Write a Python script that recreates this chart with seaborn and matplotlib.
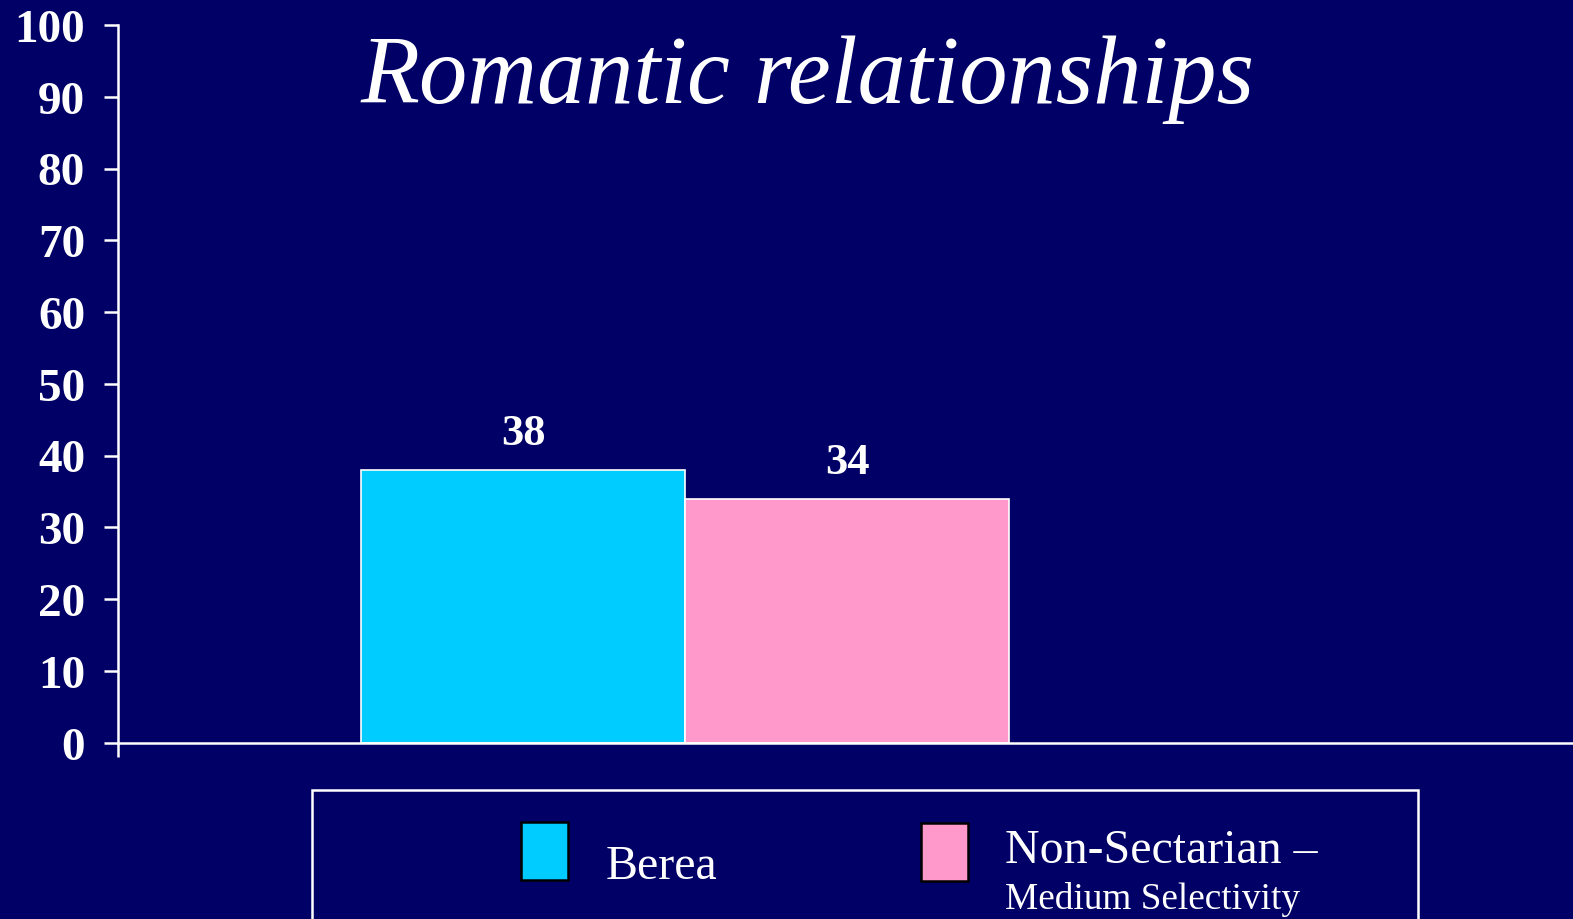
import matplotlib
matplotlib.use("Agg")
import matplotlib.pyplot as plt
import matplotlib.patches as mpatches
import pandas as pd
import seaborn as sns

# ── Data ──────────────────────────────────────────────────────────────────────
categories = ["Romantic relationships"]
series = ["Berea", "Non-Sectarian \u2013"]
series_sub = ["", "Medium Selectivity"]
values = [38, 34]
colors = ["#00CCFF", "#FF99CC"]
yticks = list(range(0, 101, 10))

BG = "#000066"
FONT = "Liberation Serif"

df = pd.DataFrame({"cat": categories * len(series), "series": series, "value": values})

sns.set_theme(style="white")
plt.rcParams["font.family"] = [FONT, "DejaVu Serif"]

fig = plt.figure(figsize=(15.73, 9.2), dpi=100, facecolor=BG)
ax = fig.add_axes([118.4 / 1573, 1 - 743.5 / 920, 1 - 118.4 / 1573, (743.5 - 26) / 920])
ax.set_facecolor(BG)

sns.barplot(data=df, x="cat", y="value", hue="series", palette=colors,
            edgecolor="white", linewidth=1.2, saturation=1, width=0.8,
            legend=False, ax=ax)

for cont in ax.containers:
    ax.bar_label(cont, padding=12, color="white", fontsize=32,
                 fontweight="bold", family=FONT)

# ── Axes styling ──────────────────────────────────────────────────────────────
ax.set_ylim(0, 100)
ax.set_xlim(-0.70, 1.096)
ax.set_yticks(yticks)
ax.set_yticklabels([str(t) for t in yticks], fontsize=34, fontweight="bold",
                   color="white", family=FONT)
ax.set_xticks([-0.70])
ax.set_xticklabels([""])
ax.set_xlabel("")
ax.set_ylabel("")
ax.tick_params(axis="both", which="major", direction="out", length=10,
               width=1.8, color="white", left=True, bottom=True)
ax.tick_params(axis="y", pad=14)
for side in ["top", "right"]:
    ax.spines[side].set_visible(False)
for side in ["left", "bottom"]:
    ax.spines[side].set_color("white")
    ax.spines[side].set_linewidth(1.8)
ax.grid(False)

# ── Title ─────────────────────────────────────────────────────────────────────
fig.text(808 / 1573, 1 - 103 / 920, categories[0], ha="center", va="baseline",
         fontsize=69.5, style="italic", color="white", family=FONT)

# ── Legend (drawn by hand to get the two-line label) ─────────────────────────
W, H = 1573, 920
box = mpatches.Rectangle((312 / W, -0.05), (1418 - 312) / W, 0.05 + 1 - 791 / H,
                         transform=fig.transFigure, facecolor="none",
                         edgecolor="white", linewidth=1.8)
fig.patches.append(box)

swatch_x = [521, 921]
swatch_top = [823, 824]
text_x = [606, 1005]
text_base = [879, 863]
for i, name in enumerate(series):
    sw = mpatches.Rectangle((swatch_x[i] / W, 1 - (swatch_top[i] + 58) / H),
                            47 / W, 58 / H, transform=fig.transFigure,
                            facecolor=colors[i], edgecolor="black", linewidth=1.8)
    fig.patches.append(sw)
    fig.text(text_x[i] / W, 1 - text_base[i] / H, name, ha="left", va="baseline",
             fontsize=34.5, color="white", family=FONT)
    if series_sub[i]:
        fig.text(text_x[i] / W, 1 - 909 / H, series_sub[i], ha="left",
                 va="baseline", fontsize=26.8, color="white", family=FONT)

fig.savefig("out.png", dpi=100, facecolor=BG)
